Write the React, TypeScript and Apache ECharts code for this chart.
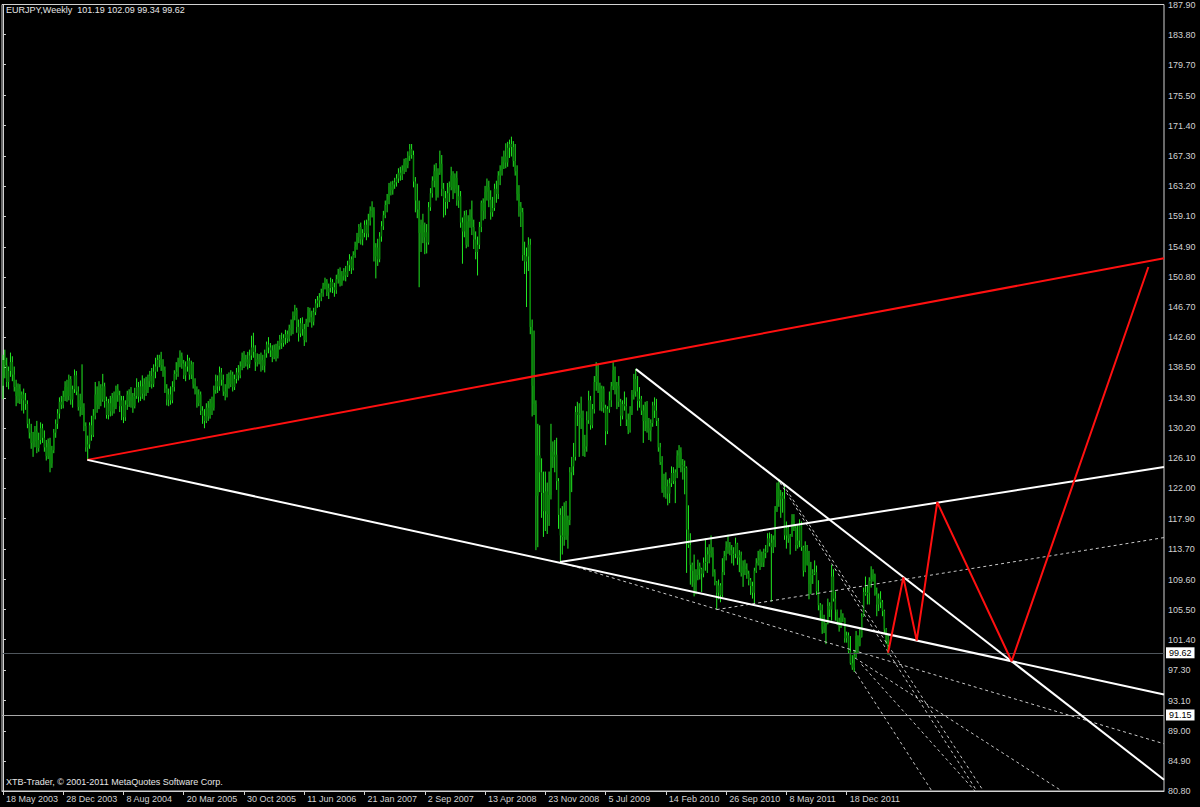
import React, { useEffect, useRef } from "react";
import * as echarts from "echarts";

// ---------- axis data ----------
const START_UTC = Date.UTC(2003, 4, 18); // 18 May 2003, first weekly bar
const SLOT_COUNT = 617; // weekly slots visible across the chart (incl. empty future)
const LABEL_STEP = 32;
const MONTHS = ["Jan", "Feb", "Mar", "Apr", "May", "Jun", "Jul", "Aug", "Sep", "Oct", "Nov", "Dec"];
const Y_LABELS = [
  "187.90", "183.80", "179.70", "175.50", "171.40", "167.30", "163.20", "159.10", "154.90",
  "150.80", "146.70", "142.60", "138.50", "134.30", "130.20", "126.10", "122.00", "117.90",
  "113.70", "109.60", "105.50", "101.40", "97.30", "93.10", "89.00", "84.90", "80.80",
];
const Y_MIN = 80.8;
const Y_MAX = 187.9;

// ---------- weekly candles [open, close, low, high] ----------
const bars2003 = [
  [136.0, 139.5, 134.2, 140.2], [139.5, 138.8, 137.0, 140.9], [138.8, 136.5, 135.8, 139.8], [136.5, 138.0, 135.5, 138.6],
  [138.0, 139.2, 137.2, 140.5], [139.2, 137.5, 136.6, 140.0], [137.5, 135.8, 135.2, 138.6], [135.8, 134.6, 133.2, 136.8],
  [134.6, 135.6, 133.6, 136.3], [135.6, 134.2, 133.5, 136.2], [134.2, 134.8, 132.6, 135.2], [134.8, 134.0, 132.2, 135.6],
  [134.0, 133.5, 132.7, 135.0], [133.5, 130.8, 130.2, 134.0], [130.8, 129.6, 128.8, 131.5], [129.6, 128.2, 127.4, 130.8],
  [128.2, 128.4, 126.3, 129.7], [128.4, 129.8, 127.6, 130.5], [129.8, 127.5, 126.8, 131.2], [127.5, 128.6, 127.0, 129.6],
  [128.6, 130.2, 128.0, 131.0], [130.2, 128.9, 128.2, 130.8], [128.9, 127.6, 127.0, 129.9], [127.6, 126.4, 125.8, 128.6],
  [126.4, 128.2, 126.0, 128.8], [128.2, 125.4, 124.2, 128.9], [125.4, 127.2, 124.8, 127.8], [127.2, 129.6, 126.8, 130.1],
  [129.6, 130.8, 128.9, 131.4], [130.8, 132.2, 130.1, 132.8], [132.2, 133.8, 131.5, 134.4], [133.8, 133.4, 132.8, 134.6],
  [133.4, 134.5, 132.9, 135.3],
];
const bars2004 = [
  [134.5, 135.8, 133.9, 136.6], [135.8, 134.6, 133.8, 136.8], [134.6, 136.9, 134.0, 137.5], [136.9, 134.1, 133.4, 137.3],
  [134.1, 135.5, 133.0, 136.0], [135.5, 137.4, 135.0, 138.2], [137.4, 135.2, 134.7, 138.0], [135.2, 133.1, 132.6, 135.9],
  [133.1, 134.0, 131.8, 134.9], [134.0, 133.0, 132.0, 138.9], [133.0, 130.5, 129.8, 133.6], [130.5, 127.6, 127.0, 131.0],
  [127.6, 128.0, 125.9, 129.2], [128.0, 130.6, 127.4, 131.0], [130.6, 129.3, 128.5, 131.9], [129.3, 131.9, 129.0, 132.8],
  [131.9, 134.8, 131.4, 136.5], [134.8, 133.4, 132.3, 135.9], [133.4, 135.7, 132.8, 136.6], [135.7, 134.1, 133.2, 136.2],
  [134.1, 135.9, 133.8, 137.6], [135.9, 133.9, 133.0, 136.4], [133.9, 132.0, 131.5, 134.5], [132.0, 133.6, 131.4, 134.2],
  [133.6, 132.5, 131.8, 134.6], [132.5, 134.3, 131.9, 135.0], [134.3, 133.1, 132.2, 135.2], [133.1, 135.5, 132.8, 136.0],
  [135.5, 134.7, 133.8, 136.2], [134.7, 133.2, 132.4, 135.3], [133.2, 134.0, 131.3, 134.6], [134.0, 131.7, 130.9, 134.6],
  [131.7, 133.4, 131.2, 134.0], [133.4, 134.8, 132.7, 135.3], [134.8, 133.9, 133.1, 135.5], [133.9, 134.5, 133.0, 135.8],
  [134.5, 133.2, 132.3, 135.0], [133.2, 134.6, 132.9, 135.7], [134.6, 135.8, 134.2, 137.0], [135.8, 134.5, 133.7, 136.5],
  [134.5, 135.9, 133.9, 136.7], [135.9, 134.9, 134.2, 137.4], [134.9, 136.2, 134.0, 137.0], [136.2, 135.4, 134.6, 137.2],
  [135.4, 136.6, 135.0, 137.5], [136.6, 137.3, 135.8, 138.0], [137.3, 136.2, 135.6, 138.4], [136.2, 137.9, 135.8, 138.9],
  [137.9, 138.6, 137.0, 139.8], [138.6, 139.5, 137.9, 140.2], [139.5, 139.7, 138.5, 140.2], [139.7, 138.8, 138.0, 140.6],
];
const bars2005 = [
  [138.8, 138.1, 137.2, 139.6], [138.1, 135.6, 135.0, 138.6], [135.6, 134.1, 133.3, 136.2], [134.1, 134.8, 133.2, 135.6],
  [134.8, 134.0, 133.4, 135.9], [134.0, 135.8, 133.6, 136.6], [135.8, 137.6, 135.2, 138.1], [137.6, 137.9, 136.8, 139.2],
  [137.9, 139.1, 137.2, 139.8], [139.1, 140.0, 138.5, 140.8], [140.0, 139.0, 138.3, 140.5], [139.0, 137.4, 136.9, 139.5],
  [137.4, 138.6, 136.6, 139.3], [138.6, 139.4, 137.9, 140.2], [139.4, 137.5, 136.8, 139.8], [137.5, 138.9, 136.9, 139.4],
  [138.9, 136.2, 135.6, 139.2], [136.2, 135.4, 134.8, 137.0], [135.4, 133.6, 133.0, 135.9], [133.6, 134.8, 133.2, 135.5],
  [134.8, 132.6, 132.0, 135.2], [132.6, 131.9, 130.8, 133.2], [131.9, 131.2, 130.2, 132.8], [131.2, 133.0, 130.9, 133.6],
  [133.0, 131.8, 131.2, 133.9], [131.8, 133.6, 131.5, 134.2], [133.6, 133.0, 132.0, 134.5], [133.0, 135.4, 132.6, 136.0],
  [135.4, 136.6, 134.9, 137.5], [136.6, 135.9, 135.0, 137.4], [135.9, 137.8, 135.3, 138.6], [137.8, 136.8, 136.0, 138.4],
  [136.8, 135.2, 134.6, 137.5], [135.2, 134.9, 134.0, 136.2], [134.9, 137.0, 134.4, 137.6], [137.0, 136.2, 135.6, 137.8],
  [136.2, 137.5, 135.8, 138.1], [137.5, 135.8, 135.2, 137.9], [135.8, 136.9, 135.4, 137.5], [136.9, 137.8, 136.3, 138.4],
  [137.8, 137.4, 136.7, 138.8], [137.4, 138.6, 137.0, 139.3], [138.6, 139.8, 138.1, 140.5], [139.8, 139.2, 138.4, 140.7],
  [139.2, 139.6, 138.6, 140.2], [139.6, 138.9, 138.2, 140.6], [138.9, 140.1, 138.4, 140.9], [140.1, 141.2, 139.5, 142.8],
  [141.2, 140.6, 139.8, 143.2], [140.6, 139.2, 138.0, 141.5], [139.2, 139.6, 138.6, 140.4], [139.6, 139.3, 138.9, 140.3],
];
const bars2006 = [
  [139.3, 139.5, 137.9, 140.5], [139.5, 138.7, 138.1, 140.2], [138.7, 140.4, 137.8, 140.9], [140.4, 141.6, 139.8, 142.0],
  [141.6, 141.2, 140.4, 142.6], [141.2, 140.8, 139.9, 141.8], [140.8, 139.9, 139.2, 141.5], [139.9, 140.9, 139.6, 141.6],
  [140.9, 140.0, 139.3, 141.7], [140.0, 141.4, 139.7, 142.1], [141.4, 142.3, 140.9, 142.9], [142.3, 141.8, 141.0, 143.2],
  [141.8, 142.5, 141.3, 143.0], [142.5, 143.0, 141.6, 143.6], [143.0, 142.4, 141.8, 143.5], [142.4, 143.8, 142.0, 144.3],
  [143.8, 143.6, 142.8, 145.0], [143.6, 145.5, 143.0, 146.1], [145.5, 146.3, 144.9, 147.0], [146.3, 144.0, 143.2, 146.6],
  [144.0, 143.1, 142.0, 145.0], [143.1, 144.5, 142.6, 145.2], [144.5, 143.7, 142.8, 145.3], [143.7, 142.2, 141.4, 144.4],
  [142.2, 144.6, 141.9, 145.1], [144.6, 146.0, 144.0, 146.7], [146.0, 145.3, 144.6, 146.6], [145.3, 144.7, 143.9, 146.2],
  [144.7, 146.0, 144.2, 146.6], [146.0, 147.2, 145.6, 147.8], [147.2, 147.6, 146.6, 148.2], [147.6, 148.0, 146.7, 148.6],
  [148.0, 148.6, 147.5, 149.2], [148.6, 149.6, 148.1, 150.0], [149.6, 150.2, 149.1, 150.7], [150.2, 148.7, 148.2, 150.5],
  [148.7, 149.3, 147.8, 149.9], [149.3, 150.1, 148.7, 150.7], [150.1, 149.4, 148.6, 150.5], [149.4, 149.0, 148.1, 150.0],
  [149.0, 150.5, 148.5, 151.1], [150.5, 151.2, 149.9, 151.9], [151.2, 150.0, 149.5, 152.1], [150.0, 150.9, 149.6, 151.6],
  [150.9, 151.5, 150.3, 152.0], [151.5, 151.0, 150.2, 152.3], [151.0, 152.4, 150.8, 153.0], [152.4, 153.2, 151.6, 153.9],
  [153.2, 152.0, 151.2, 153.6], [152.0, 153.8, 151.7, 154.3], [153.8, 154.9, 153.4, 155.6], [154.9, 156.2, 154.5, 156.8],
];
const bars2007 = [
  [156.2, 157.6, 155.4, 158.0], [157.6, 155.9, 155.2, 158.2], [155.9, 156.8, 155.1, 157.3], [156.8, 157.9, 156.2, 158.5],
  [157.9, 156.7, 155.8, 158.6], [156.7, 158.5, 156.2, 159.4], [158.5, 159.8, 157.8, 160.4], [159.8, 160.0, 158.9, 161.1],
  [160.0, 153.6, 152.9, 160.3], [153.6, 154.8, 150.6, 155.4], [154.8, 153.2, 152.3, 156.0], [153.2, 156.3, 152.8, 156.9],
  [156.3, 157.7, 155.6, 158.4], [157.7, 159.2, 157.2, 159.8], [159.2, 160.6, 158.8, 161.2], [160.6, 161.3, 159.6, 162.1],
  [161.3, 163.1, 160.7, 163.6], [163.1, 162.6, 161.9, 163.8], [162.6, 163.4, 162.0, 163.9], [163.4, 163.7, 162.8, 164.3],
  [163.7, 164.2, 163.1, 164.8], [164.2, 165.0, 163.6, 165.6], [165.0, 164.6, 163.9, 165.8], [164.6, 165.3, 164.0, 166.0],
  [165.3, 166.4, 164.8, 166.9], [166.4, 166.0, 165.1, 167.0], [166.0, 167.3, 165.6, 167.9], [167.3, 168.2, 166.6, 168.9],
  [168.2, 167.4, 166.9, 168.9], [167.4, 163.8, 163.0, 168.0], [163.8, 161.2, 159.6, 164.4], [161.2, 160.0, 158.8, 163.5],
  [160.0, 156.8, 149.4, 161.2], [156.8, 157.9, 154.2, 158.6], [157.9, 156.2, 155.4, 159.4], [156.2, 156.9, 153.9, 158.2],
  [156.9, 155.5, 154.0, 158.0], [155.5, 160.3, 155.2, 161.0], [160.3, 162.2, 159.8, 162.9], [162.2, 163.9, 161.6, 164.5],
  [163.9, 165.2, 163.0, 166.1], [165.2, 162.0, 161.2, 166.3], [162.0, 165.0, 161.6, 165.6], [165.0, 166.2, 164.7, 168.0],
  [166.2, 162.8, 161.8, 167.4], [162.8, 161.5, 158.9, 163.6], [161.5, 161.0, 159.2, 162.5], [161.0, 162.2, 160.1, 163.6],
  [162.2, 163.0, 161.0, 163.8], [163.0, 164.6, 162.6, 165.8], [164.6, 162.8, 161.4, 165.2], [162.8, 164.3, 162.2, 164.9],
];
const bars2008 = [
  [164.3, 161.2, 160.5, 165.2], [161.2, 161.8, 160.2, 163.3], [161.8, 158.2, 157.5, 162.5], [158.2, 157.0, 152.6, 158.9],
  [157.0, 159.2, 156.2, 159.8], [159.2, 155.2, 154.7, 159.9], [155.2, 158.4, 154.9, 159.2], [158.4, 158.9, 157.5, 160.0],
  [158.9, 157.6, 156.5, 161.2], [157.6, 155.9, 154.6, 158.6], [155.9, 154.2, 153.2, 157.0], [154.2, 155.2, 151.0, 156.3],
  [155.2, 157.6, 154.6, 158.3], [157.6, 160.9, 156.9, 161.2], [160.9, 159.8, 158.5, 161.5], [159.8, 162.4, 158.7, 163.2],
  [162.4, 163.0, 161.2, 164.2], [163.0, 161.3, 160.3, 163.9], [161.3, 159.6, 158.6, 162.6], [159.6, 160.2, 159.0, 161.7],
  [160.2, 162.8, 159.8, 163.5], [162.8, 162.1, 160.9, 163.9], [162.1, 164.6, 161.4, 165.2], [164.6, 165.3, 163.3, 166.0],
  [165.3, 166.5, 164.6, 167.2], [166.5, 167.2, 165.5, 168.0], [167.2, 166.4, 165.6, 169.0], [166.4, 168.4, 165.8, 169.2],
  [168.4, 168.9, 167.0, 169.5], [168.9, 168.5, 167.2, 169.9], [168.5, 166.6, 165.8, 169.3], [166.6, 165.2, 164.6, 168.9],
  [165.2, 162.1, 161.2, 166.0], [162.1, 160.4, 159.0, 163.3], [160.4, 159.6, 157.6, 161.0], [159.6, 153.8, 153.0, 160.2],
  [153.8, 152.9, 151.2, 155.6], [152.9, 153.6, 146.7, 154.8], [153.6, 155.2, 151.6, 156.2], [155.2, 144.0, 143.0, 156.0],
  [144.0, 136.0, 131.8, 145.0], [136.0, 133.5, 132.0, 143.5], [133.5, 121.0, 113.6, 134.0], [121.0, 126.5, 114.0, 130.8],
  [126.5, 124.2, 121.5, 130.6], [124.2, 121.4, 118.0, 126.1], [121.4, 118.9, 115.4, 124.3], [118.9, 121.6, 116.2, 124.3],
  [121.6, 118.5, 115.8, 122.8], [118.5, 121.1, 116.9, 124.3], [121.1, 127.0, 120.5, 130.8], [127.0, 126.3, 124.8, 128.4],
  [126.3, 126.6, 124.2, 128.6],
];
const bars2009 = [
  [126.6, 123.0, 121.8, 128.9], [123.0, 118.4, 116.5, 123.4], [118.4, 115.6, 112.1, 119.3], [115.6, 115.4, 113.0, 119.6],
  [115.4, 118.2, 114.2, 120.1], [118.2, 115.6, 115.0, 120.3], [115.6, 117.7, 113.8, 118.3], [117.7, 124.2, 117.0, 124.9],
  [124.2, 125.0, 121.5, 126.3], [125.0, 126.3, 123.8, 128.2], [126.3, 132.4, 125.8, 133.2], [132.4, 132.0, 130.5, 133.8],
  [132.0, 132.2, 126.3, 133.6], [132.2, 131.6, 130.1, 134.5], [131.6, 127.4, 126.4, 132.6], [127.4, 127.7, 126.3, 129.3],
  [127.7, 131.3, 127.0, 132.5], [131.3, 134.0, 130.8, 135.3], [134.0, 130.6, 130.0, 134.6], [130.6, 132.8, 130.2, 133.5],
  [132.8, 136.5, 132.2, 137.3], [136.5, 137.3, 135.3, 139.2], [137.3, 136.0, 135.0, 139.0], [136.0, 133.8, 132.6, 136.4],
  [133.8, 135.6, 132.5, 136.0], [135.6, 133.0, 132.3, 135.9], [133.0, 129.8, 127.9, 133.4], [129.8, 132.8, 129.4, 133.2],
  [132.8, 134.0, 132.3, 135.2], [134.0, 135.9, 133.1, 136.5], [135.9, 138.1, 135.4, 139.2], [138.1, 135.6, 134.8, 138.6],
  [135.6, 136.0, 132.8, 136.5], [136.0, 133.8, 133.1, 137.3], [133.8, 131.9, 130.5, 134.2], [131.9, 133.5, 131.4, 134.0],
  [133.5, 133.2, 132.6, 135.2], [133.2, 131.4, 130.5, 134.4], [131.4, 130.0, 129.4, 132.2], [130.0, 132.3, 129.6, 133.2],
  [132.3, 134.8, 132.0, 135.4], [134.8, 136.9, 134.1, 137.6], [136.9, 135.2, 134.5, 138.3], [135.2, 133.9, 132.6, 137.3],
  [133.9, 134.2, 133.0, 135.8], [134.2, 132.6, 132.0, 134.6], [132.6, 131.2, 128.2, 133.4], [131.2, 133.2, 129.8, 133.8],
  [133.2, 130.2, 129.6, 133.9], [130.2, 129.9, 128.6, 131.6], [129.9, 130.9, 128.4, 131.4], [130.9, 133.3, 130.4, 133.8],
];
const bars2010 = [
  [133.3, 132.6, 131.6, 134.4], [132.6, 131.2, 130.5, 134.2], [131.2, 127.6, 127.0, 131.6], [127.6, 125.6, 125.2, 128.2],
  [125.6, 121.9, 121.4, 126.4], [121.9, 122.4, 120.8, 124.0], [122.4, 122.3, 120.6, 124.2], [122.3, 121.3, 119.7, 123.2],
  [121.3, 122.7, 120.0, 123.4], [122.7, 124.1, 122.2, 125.0], [124.1, 123.0, 122.6, 124.9], [123.0, 124.2, 120.0, 124.6],
  [124.2, 126.5, 123.4, 127.2], [126.5, 126.9, 124.8, 127.9], [126.9, 125.2, 124.2, 127.6], [125.2, 125.0, 123.2, 126.0],
  [125.0, 124.8, 121.2, 125.8], [124.8, 116.4, 110.5, 125.0], [116.4, 114.3, 113.9, 119.7], [114.3, 111.6, 108.9, 115.9],
  [111.6, 110.8, 108.6, 111.9], [110.8, 109.2, 107.3, 113.0], [109.2, 110.2, 107.6, 111.0], [110.2, 111.4, 109.5, 112.3],
  [111.4, 111.0, 109.6, 111.9], [111.0, 110.4, 107.9, 111.2], [110.4, 111.9, 109.9, 112.6], [111.9, 112.0, 110.8, 115.2],
  [112.0, 113.0, 110.5, 114.0], [113.0, 113.5, 111.8, 114.4], [113.5, 113.2, 112.6, 115.6], [113.2, 110.6, 110.0, 114.0],
  [110.6, 109.2, 108.8, 111.0], [109.2, 107.8, 105.5, 109.4], [107.8, 108.8, 106.9, 109.6], [108.8, 107.5, 106.5, 109.1],
  [107.5, 110.6, 107.2, 112.5], [110.6, 112.8, 110.2, 113.5], [112.8, 114.0, 112.2, 114.8], [114.0, 114.0, 113.1, 115.7],
  [114.0, 113.6, 112.9, 114.7], [113.6, 113.0, 111.8, 114.3], [113.0, 113.1, 111.5, 114.0], [113.1, 114.5, 112.5, 115.3],
  [114.5, 112.6, 111.6, 114.6], [112.6, 112.9, 110.6, 113.6], [112.9, 110.5, 110.0, 113.4], [110.5, 111.4, 108.6, 112.2],
  [111.4, 111.0, 110.2, 112.3], [111.0, 110.4, 109.7, 111.8], [110.4, 109.5, 108.8, 110.8], [109.5, 108.7, 107.5, 109.8],
];
const bars2011 = [
  [108.7, 107.8, 107.0, 109.3], [107.8, 110.8, 106.4, 111.2], [110.8, 111.8, 110.5, 112.5], [111.8, 112.2, 111.5, 113.5],
  [112.2, 112.6, 110.9, 113.7], [112.6, 111.9, 111.3, 113.4], [111.9, 113.2, 111.3, 113.8], [113.2, 113.4, 112.5, 114.3],
  [113.4, 115.2, 113.3, 115.9], [115.2, 114.6, 114.1, 116.0], [114.6, 114.0, 106.6, 115.8], [114.0, 115.0, 113.2, 115.6],
  [115.0, 119.0, 114.0, 119.6], [119.0, 122.0, 118.8, 122.8], [122.0, 120.5, 119.5, 123.3], [120.5, 121.0, 118.0, 121.8],
  [121.0, 120.6, 118.7, 121.5], [120.6, 115.6, 115.0, 122.6], [115.6, 116.6, 113.8, 117.5], [116.6, 115.2, 114.6, 117.0],
  [115.2, 115.6, 113.0, 115.8], [115.6, 117.6, 115.4, 118.5], [117.6, 116.6, 116.2, 118.5], [116.6, 114.3, 113.5, 116.9],
  [114.3, 114.9, 113.8, 117.0], [114.9, 117.0, 114.0, 117.8], [117.0, 114.0, 113.5, 117.5], [114.0, 110.8, 110.0, 114.2],
  [110.8, 113.5, 110.6, 114.8], [113.5, 111.6, 111.5, 114.3], [111.6, 109.0, 106.9, 113.5], [109.0, 110.2, 107.6, 112.0],
  [110.2, 110.4, 109.0, 111.0], [110.4, 110.6, 110.2, 112.2], [110.6, 108.0, 107.5, 111.5], [108.0, 106.1, 105.4, 109.5],
  [106.1, 105.4, 104.0, 106.4], [105.4, 102.8, 102.2, 106.2], [102.8, 103.2, 102.3, 104.8], [103.2, 103.6, 100.8, 103.7],
  [103.6, 106.0, 103.5, 107.0], [106.0, 105.5, 104.5, 106.5], [105.5, 110.0, 104.0, 111.6], [110.0, 107.0, 106.6, 111.0],
  [107.0, 105.5, 104.0, 108.0], [105.5, 104.0, 103.4, 105.2], [104.0, 103.2, 102.5, 104.4], [103.2, 104.6, 103.0, 105.5],
  [104.6, 104.3, 103.8, 105.0], [104.3, 101.6, 101.0, 104.4], [101.6, 102.0, 101.0, 102.5], [102.0, 99.8, 99.5, 102.4],
];
const bars2012 = [
  [99.8, 98.2, 98.0, 101.9], [98.2, 97.6, 97.3, 99.3], [97.6, 99.2, 97.0, 100.0], [99.2, 101.9, 98.9, 102.6],
  [101.9, 100.6, 99.6, 102.0], [100.6, 101.8, 100.5, 103.1], [101.8, 104.6, 101.7, 105.0], [104.6, 107.9, 104.5, 108.5],
  [107.9, 107.6, 107.4, 110.0], [107.6, 107.8, 106.2, 108.8], [107.8, 109.4, 106.2, 109.9], [109.4, 109.6, 108.5, 111.4],
  [109.6, 110.2, 109.3, 111.0], [110.2, 107.6, 107.4, 110.4], [107.6, 106.2, 104.6, 108.5], [106.2, 107.0, 105.3, 107.7],
  [107.0, 106.5, 105.7, 108.0], [106.5, 105.3, 104.6, 106.8], [105.3, 102.8, 102.3, 105.5], [102.8, 101.2, 100.8, 103.0],
  [101.19, 99.62, 99.34, 102.09],
];

// ---------- drawn objects: [barIndex, price] ----------
const redChannel = [[44.8, 125.89], [455.1, 145.59]];
const lowerSupport = [[44.8, 125.89], [535.6, 98.47]];
const fallingResistance = [[336.1, 138.25], [535.6, 98.47]];
const risingChannel = [[295.8, 111.97], [455.1, 118.41]];
const dottedFromLow2009 = [[295.8, 111.97], [617.0, 87.19]];
const dottedRising2010 = [[379.0, 105.5], [617.0, 115.33]];
const dottedSteepA = [[412.6, 122.8], [517.1, 80.81]];
const dottedSteepB = [[414.2, 122.53], [520.6, 80.81]];
const dottedSteepC = [[452.4, 98.92], [562.2, 80.81]];
const dottedSteepD = [[455.9, 98.03], [516.1, 80.81]];
const dottedSteepE = [[452.4, 97.1], [493.2, 80.81]];
const projection = [[470, 99.62], [478.1, 109.89], [485.2, 101.29], [496.1, 120.12], [535.6, 98.47], [608.2, 152.16]];
const lastClose = 99.62;
const levelLine = 91.15;
const headerText = "EURJPY,Weekly  101.19 102.09 99.34 99.62";
const footerText = "XTB-Trader, \u00A9 2001-2011 MetaQuotes Software Corp.";

const FONT = "'Liberation Sans', Arial, sans-serif";
const AXIS_COLOR = "#d2d2d2";
const RIGHT_EDGE_INDEX = SLOT_COUNT - 0.5;

function weekLabel(i: number): string {
  const d = new Date(START_UTC + i * 7 * 86400000);
  return `${d.getUTCDate()} ${MONTHS[d.getUTCMonth()]} ${d.getUTCFullYear()}`;
}

function extend(pts: number[][]): number[][] {
  const [a, b] = pts;
  const slope = (b[1] - a[1]) / (b[0] - a[0]);
  return [a, [RIGHT_EDGE_INDEX, a[1] + slope * (RIGHT_EDGE_INDEX - a[0])]];
}

export default function App() {
  const ref = useRef<HTMLDivElement>(null);

  useEffect(() => {
    if (!ref.current) return;
    const chart = echarts.init(ref.current, undefined, { renderer: "svg" });

    const bars = [
      ...bars2003, ...bars2004, ...bars2005, ...bars2006, ...bars2007,
      ...bars2008, ...bars2009, ...bars2010, ...bars2011, ...bars2012,
    ];
    const categories = Array.from({ length: SLOT_COUNT }, (_, i) => weekLabel(i));
    const showLabel = (index: number) => index % LABEL_STEP === 0 && index < bars.length;
    const yTicks = Y_LABELS.map(Number);

    const lineSeries = (data: number[][], color: string, width: number, dashed = false, z = 5) => ({
      type: "line",
      xAxisIndex: 1,
      yAxisIndex: 0,
      data,
      symbol: "none",
      silent: true,
      clip: true,
      animation: false,
      z,
      lineStyle: { color, width, type: dashed ? [3, 3] : "solid" },
    });

    const option: any = {
      animation: false,
      backgroundColor: "#000000",
      grid: {
        left: 2, right: 36, top: 2, bottom: 16,
        show: true, borderColor: AXIS_COLOR, borderWidth: 1, backgroundColor: "#000000",
      },
      xAxis: [
        {
          type: "category",
          data: categories,
          boundaryGap: true,
          axisLine: { show: true, lineStyle: { color: AXIS_COLOR, width: 1 } },
          axisTick: { show: true, alignWithLabel: true, interval: showLabel, length: 4, lineStyle: { color: AXIS_COLOR } },
          axisLabel: {
            show: true, interval: showLabel, align: "left", color: AXIS_COLOR,
            fontSize: 9, fontFamily: FONT, margin: 3, padding: [0, 0, 0, 3],
          },
          splitLine: { show: false },
        },
        { type: "value", min: -0.5, max: RIGHT_EDGE_INDEX, show: false },
      ],
      yAxis: [
        {
          type: "value",
          position: "right",
          min: Y_MIN,
          max: Y_MAX,
          splitLine: { show: false },
          axisLine: { show: true, lineStyle: { color: AXIS_COLOR } },
          axisTick: { show: true, length: 3, customValues: yTicks, lineStyle: { color: AXIS_COLOR } },
          axisLabel: {
            show: true, customValues: yTicks, color: AXIS_COLOR, fontSize: 9, fontFamily: FONT, margin: 4,
            formatter: (v: number) => v.toFixed(2),
          },
        },
      ],
      graphic: [
        { type: "text", left: 6, top: 5, silent: true, style: { text: headerText, fill: "#e6e6e6", font: `9px ${FONT}` } },
        { type: "text", left: 6, top: 777, silent: true, style: { text: footerText, fill: "#e6e6e6", font: `9px ${FONT}` } },
      ],
      series: [
        {
          type: "custom",
          xAxisIndex: 0,
          yAxisIndex: 0,
          data: bars.map((b, i) => [i, b[0], b[1], b[2], b[3]]),
          encode: { x: 0, y: [1, 2, 3, 4] },
          clip: true,
          silent: true,
          z: 3,
          renderItem: (params: any, api: any) => {
            const i = api.value(0);
            const o = api.value(1), c = api.value(2), l = api.value(3), h = api.value(4);
            const pH = api.coord([i, h]);
            const pL = api.coord([i, l]);
            const pO = api.coord([i, o]);
            const pC = api.coord([i, c]);
            const bw = api.size([1, 0])[0];
            const top = Math.min(pO[1], pC[1]);
            const hgt = Math.max(1, Math.abs(pO[1] - pC[1]));
            return {
              type: "group",
              children: [
                { type: "line", shape: { x1: pH[0], y1: pH[1], x2: pL[0], y2: pL[1] }, style: { stroke: "#22ea22", lineWidth: 1 } },
                {
                  type: "rect",
                  shape: { x: pO[0] - bw * 0.4, y: top, width: bw * 0.8, height: hgt },
                  style: { fill: "#0a860a" },
                },
              ],
            };
          },
        },
        lineSeries(extend(redChannel), "#ff1010", 2),
        lineSeries(extend(lowerSupport), "#ffffff", 2),
        lineSeries(extend(fallingResistance), "#ffffff", 2),
        lineSeries(extend(risingChannel), "#ffffff", 2),
        lineSeries(extend(dottedFromLow2009), "#c8c8c8", 1, true, 4),
        lineSeries(extend(dottedRising2010), "#c8c8c8", 1, true, 4),
        lineSeries(dottedSteepA, "#c8c8c8", 1, true, 4),
        lineSeries(dottedSteepB, "#c8c8c8", 1, true, 4),
        lineSeries(dottedSteepC, "#c8c8c8", 1, true, 4),
        lineSeries(dottedSteepD, "#c8c8c8", 1, true, 4),
        lineSeries(dottedSteepE, "#c8c8c8", 1, true, 4),
        {
          ...lineSeries(projection, "#ff1010", 2, false, 6),
          markLine: {
            silent: true,
            symbol: "none",
            animation: false,
            data: [
              {
                yAxis: lastClose,
                lineStyle: { color: "#4f565c", width: 1, type: "solid" },
                label: {
                  show: true, position: "end", formatter: lastClose.toFixed(2), color: "#000", backgroundColor: "#ffffff",
                  fontSize: 9, fontFamily: FONT, padding: [1, 3, 1, 3], distance: 2,
                },
              },
              {
                yAxis: levelLine,
                lineStyle: { color: "#a8a8a8", width: 1, type: "solid" },
                label: {
                  show: true, position: "end", formatter: levelLine.toFixed(2), color: "#000", backgroundColor: "#ffffff",
                  fontSize: 9, fontFamily: FONT, padding: [1, 3, 1, 3], distance: 2,
                },
              },
            ],
          },
        },
      ],
    };

    chart.setOption(option);
    return () => chart.dispose();
  }, []);

  return (
    <div
      ref={ref}
      style={{ position: "fixed", left: 0, top: 0, width: 1200, height: 807, background: "#000" }}
    />
  );
}
